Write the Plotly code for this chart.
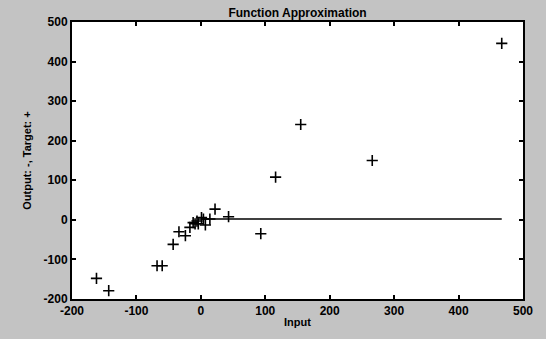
import plotly.graph_objects as go

# Target points (input, target)
inputs = [-162, -143, -68, -60, -43, -34, -24, -17, -12, -9, -6, -4, 1, 4, 7, 14, 22, 43, 93, 116, 155, 266, 467]
targets = [-148, -179, -116, -116, -62, -30, -40, -19, -7, -10, -3, -10, 6, 2, -13, 2, 27, 8, -35, 108, 241, 150, 446]

# Network output line
out_x = [0, 4, 14, 43, 93, 116, 155, 266, 467]
out_y = [2, 2, 2, 2, 2, 2, 2, 2, 2]

x_ticks = [-200, -100, 0, 100, 200, 300, 400, 500]
y_ticks = [-200, -100, 0, 100, 200, 300, 400, 500]

fig = go.Figure()
fig.add_trace(go.Scatter(x=out_x, y=out_y, mode="lines",
                         line=dict(color="black", width=1.5), showlegend=False))
fig.add_trace(go.Scatter(x=inputs, y=targets, mode="markers",
                         marker=dict(symbol="cross-thin", size=8,
                                     line=dict(color="black", width=1.6)),
                         showlegend=False))

font = dict(family="Liberation Sans, Arial, sans-serif", size=11, color="black")
axis_common = dict(showgrid=False, zeroline=False, showline=True, linecolor="black",
                   linewidth=2, mirror="ticks", ticks="inside", ticklen=4,
                   tickcolor="black", tickwidth=1.5,
                   tickfont=dict(family="Liberation Sans, Arial, sans-serif", size=12,
                                 color="black", weight="bold"))

fig.update_layout(
    width=546, height=339,
    margin=dict(l=72, r=23, t=22, b=34),
    paper_bgcolor="#c3c3c3", plot_bgcolor="white",
    font=font,
    title=dict(text="<b>Function Approximation</b>", x=0.545, xanchor="center",
               y=0.975, yanchor="top", font=dict(size=12)),
    xaxis=dict(range=[-200, 500], tickvals=x_ticks, ticktext=[str(v) for v in x_ticks],
               title=dict(text="<b>Input</b>", standoff=1, font=dict(size=11)), **axis_common),
    yaxis=dict(range=[-200, 500], tickvals=y_ticks, ticktext=[str(v) for v in y_ticks],
               title=dict(text="<b>Output: -, Target: +</b>", standoff=10, font=dict(size=11)),
               **axis_common),
)

fig.write_html("out.html")
